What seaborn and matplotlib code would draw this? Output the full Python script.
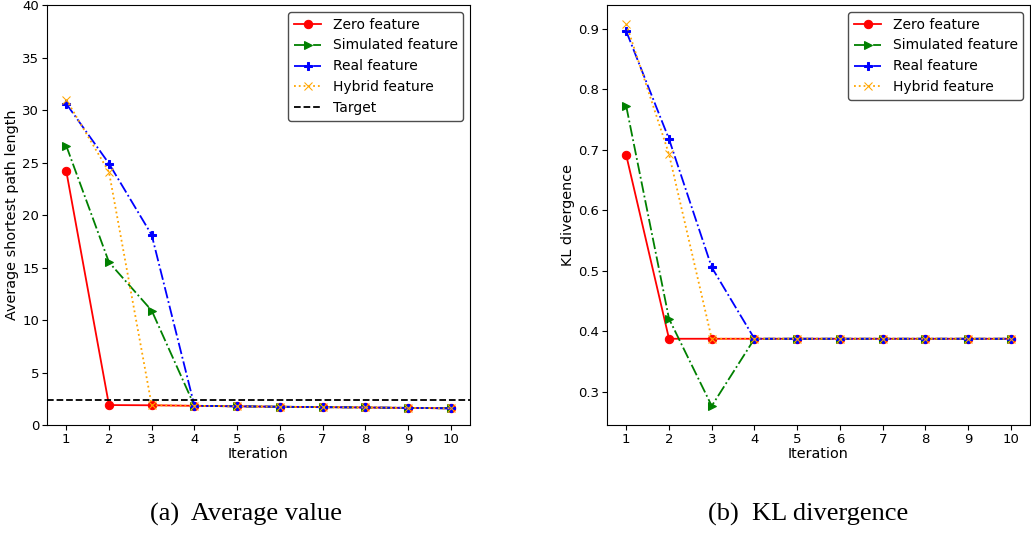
import matplotlib
matplotlib.use("Agg")
import matplotlib.pyplot as plt
import seaborn as sns
import pandas as pd

iterations = [1, 2, 3, 4, 5, 6, 7, 8, 9, 10]

# (a) Average shortest path length
avg_zero = [24.2, 1.9, 1.88, 1.83, 1.78, 1.74, 1.70, 1.67, 1.63, 1.59]
avg_sim = [26.6, 15.5, 10.9, 1.83, 1.78, 1.74, 1.70, 1.67, 1.63, 1.59]
avg_real = [30.6, 24.9, 18.1, 1.83, 1.78, 1.74, 1.70, 1.67, 1.63, 1.59]
avg_hybrid = [31.0, 24.1, 1.88, 1.83, 1.78, 1.74, 1.70, 1.67, 1.63, 1.59]
avg_target = 2.4

# (b) KL divergence
kl_zero = [0.691, 0.388, 0.388, 0.388, 0.388, 0.388, 0.388, 0.388, 0.388, 0.388]
kl_sim = [0.772, 0.421, 0.277, 0.388, 0.388, 0.388, 0.388, 0.388, 0.388, 0.388]
kl_real = [0.896, 0.718, 0.506, 0.388, 0.388, 0.388, 0.388, 0.388, 0.388, 0.388]
kl_hybrid = [0.908, 0.693, 0.388, 0.388, 0.388, 0.388, 0.388, 0.388, 0.388, 0.388]

series_names = ["Zero feature", "Simulated feature", "Real feature", "Hybrid feature"]
styles = [
    dict(color="red", marker="o", linestyle="-"),
    dict(color="green", marker=">", linestyle="-."),
    dict(color="blue", marker="P", linestyle="-."),
    dict(color="orange", marker="x", linestyle=":"),
]

fig = plt.figure(figsize=(10.31, 5.33), dpi=100)
ax1 = fig.add_axes([0.0456, 0.2026, 0.4103, 0.788])
ax2 = fig.add_axes([0.5888, 0.2026, 0.4103, 0.788])

for ax, data in [(ax1, [avg_zero, avg_sim, avg_real, avg_hybrid]),
                 (ax2, [kl_zero, kl_sim, kl_real, kl_hybrid])]:
    for name, vals, st in zip(series_names, data, styles):
        df = pd.DataFrame({"Iteration": iterations, "v": vals})
        sns.lineplot(data=df, x="Iteration", y="v", ax=ax, label=name,
                     color=st["color"], marker=st["marker"], linestyle=st["linestyle"],
                     markersize=6, markeredgecolor=st["color"], linewidth=1.3)
    ax.set_xticks(iterations)
    ax.set_xlabel("Iteration", fontsize=10.4, labelpad=1)
    ax.tick_params(labelsize=9.5, pad=2.2, length=3.5)

ax1.axhline(avg_target, color="black", linestyle="--", linewidth=1.3, label="Target")
ax1.set_ylim(0, 40)
ax1.set_ylabel("Average shortest path length", fontsize=10.4, labelpad=2)
ax2.set_ylabel("KL divergence", fontsize=10.4, labelpad=2)

for ax in (ax1, ax2):
    leg = ax.legend(loc="upper right", fontsize=10, framealpha=1, edgecolor="0.3",
                    fancybox=True, handlelength=2.0, borderpad=0.4, labelspacing=0.5)

fig.text(0.239, 0.034, "(a)  Average value", ha="center", va="center",
         family="Liberation Serif", fontsize=19)
fig.text(0.784, 0.034, "(b)  KL divergence", ha="center", va="center",
         family="Liberation Serif", fontsize=19)

fig.savefig("out.png", dpi=100)
